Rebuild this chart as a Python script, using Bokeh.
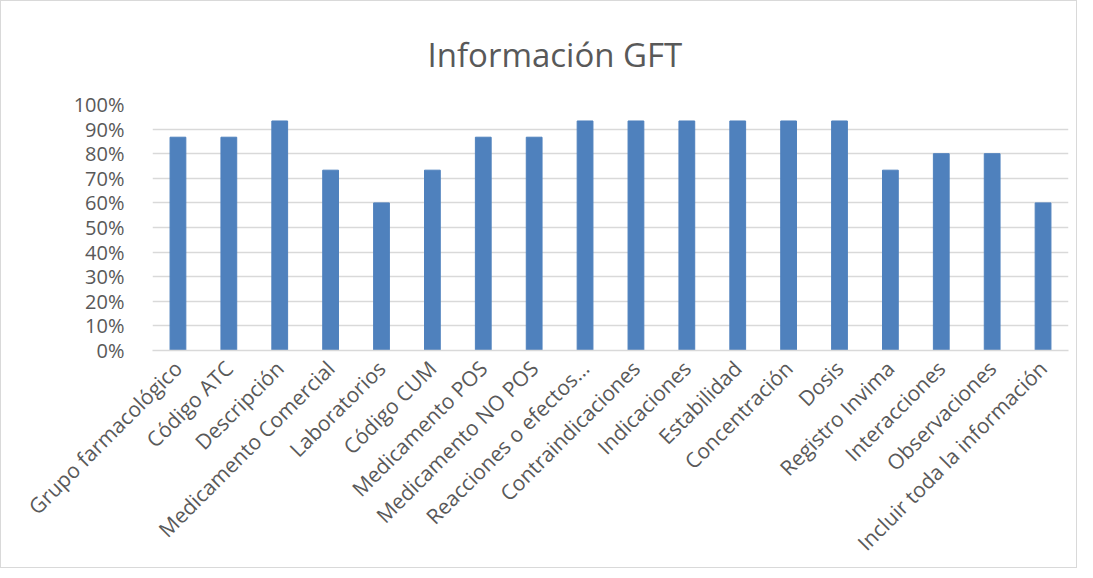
import math
from bokeh.plotting import figure
from bokeh.models import FactorRange, Range1d, NumeralTickFormatter, FixedTicker
from bokeh.embed import file_html
from bokeh.resources import INLINE

categories = [
    "Grupo farmacológico", "Código ATC", "Descripción", "Medicamento Comercial",
    "Laboratorios", "Código CUM", "Medicamento POS", "Medicamento NO POS",
    "Reacciones o efectos…", "Contraindicaciones", "Indicaciones", "Estabilidad",
    "Concentración", "Dosis", "Registro Invima", "Interacciones",
    "Observaciones", "Incluir toda la información",
]
values = [0.867, 0.867, 0.933, 0.733, 0.600, 0.733, 0.867, 0.867, 0.933,
          0.933, 0.933, 0.933, 0.933, 0.933, 0.733, 0.800, 0.800, 0.600]
y_ticks = [0.0, 0.1, 0.2, 0.3, 0.4, 0.5, 0.6, 0.7, 0.8, 0.9, 1.0]
title_text = "Información GFT"

FONT = "Open Sans"
GRAY = "#595959"

p = figure(
    width=1077, height=568,
    x_range=FactorRange(*categories, range_padding=0.0),
    y_range=Range1d(0, 1),
    output_backend="svg", toolbar_location=None,
    min_border_left=151, min_border_right=10, min_border_top=103, min_border_bottom=20,
)
p.styles = {"border": "1px solid #d9d9d9"}

p.vbar(x=categories, top=values, width=0.31, fill_color="#4F81BD", line_color="#4F81BD")

p.title.text = title_text
p.title.align = "left"
p.title.offset = 275
p.title.text_font = FONT
p.title.text_font_size = "33px"
p.title.text_font_style = "normal"
p.title.text_color = GRAY
p.title.standoff = 55

p.outline_line_color = None
p.xgrid.grid_line_color = None
p.ygrid.grid_line_color = "#d9d9d9"
p.ygrid.grid_line_width = 1.5

p.yaxis.ticker = FixedTicker(ticks=y_ticks)
p.yaxis.formatter = NumeralTickFormatter(format="0%")
p.yaxis.axis_line_color = None
p.yaxis.major_tick_line_color = None
p.yaxis.minor_tick_line_color = None
p.yaxis.major_label_text_font = FONT
p.yaxis.major_label_text_font_size = "20px"
p.yaxis.major_label_text_color = GRAY
p.yaxis.major_label_standoff = 22

p.xaxis.axis_line_color = "#d9d9d9"
p.xaxis.axis_line_width = 1.5
p.xaxis.major_tick_line_color = None
p.xaxis.minor_tick_line_color = None
p.xaxis.major_tick_out = 0
p.xaxis.minor_tick_out = 0
p.xaxis.major_label_orientation = math.pi / 4
p.xaxis.major_label_text_font = FONT
p.xaxis.major_label_text_font_size = "21px"
p.xaxis.major_label_text_color = GRAY
p.xaxis.major_label_standoff = 14

open("out.html", "w").write(file_html(p, INLINE))
